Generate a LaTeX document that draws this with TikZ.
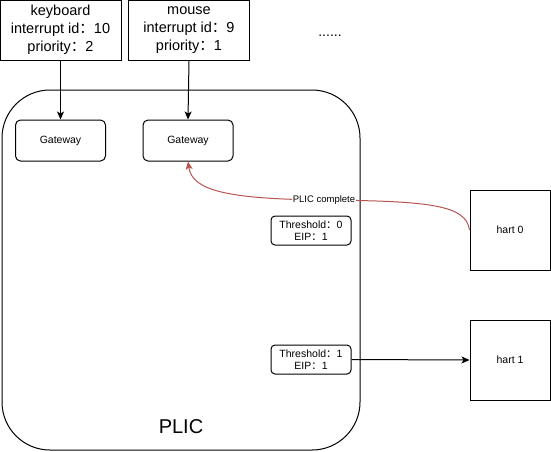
\documentclass[tikz,border=0pt]{standalone}
\usepackage{fontspec}
\setmainfont{Liberation Sans}
\newfontfamily\cjk{Noto Sans CJK SC}
\usetikzlibrary{arrows.meta}
\newcommand{\fc}{{\cjk ：}}
\begin{document}
\begin{tikzpicture}[x=1pt,y=-1pt,line width=1pt,
  dev/.style={draw,minimum width=121pt,minimum height=60pt,inner sep=0pt,align=center,font=\fontsize{14.5}{18}\selectfont},
  gw/.style={draw,rounded corners=5pt,minimum width=90pt,minimum height=41pt,inner sep=0pt,font=\fontsize{10.5}{12}\selectfont},
  th/.style={draw,rounded corners=4pt,minimum width=80pt,minimum height=29pt,inner sep=0pt,align=center,font=\fontsize{10.5}{12.5}\selectfont},
  hart/.style={draw,minimum width=80pt,minimum height=80pt,inner sep=0pt,font=\fontsize{10.5}{12}\selectfont},
  arr/.style={-{Stealth[length=8pt,width=7pt,inset=2pt]}},
  redarr/.style={-{Stealth[length=8pt,width=7pt,inset=2pt]},draw={rgb,255:red,184;green,84;blue,80}},
  lbl/.style={fill=white,inner sep=1pt,font=\fontsize{9.5}{11}\selectfont}]
\useasboundingbox (0,0) rectangle (551,451);
\node[draw,rounded corners=48pt,minimum width=358pt,minimum height=360pt,inner sep=0pt] (plic) at (181,270) {};
\node[font=\fontsize{20}{24}\selectfont] (plictxt) at (181,427) {PLIC};
\node[dev] (kb) at (60.5,30) {keyboard\\interrupt id\fc 10\\priority\fc 2};
\node[dev] (ms) at (189,30) {mouse\\interrupt id\fc 9\\priority\fc 1};
\node[font=\fontsize{14}{16}\selectfont] (dots) at (330,36) {......};
\node[gw] (g1) at (60.5,140.5) {Gateway};
\node[gw] (g2) at (188,140.5) {Gateway};
\node[th] (t0) at (311,230.5) {Threshold\fc 0\\EIP\fc 1};
\node[th] (t1) at (311,359.5) {Threshold\fc 1\\EIP\fc 1};
\node[hart] (h0) at (510,230) {hart 0};
\node[hart] (h1) at (510,360) {hart 1};
\draw[arr] (kb.south) -- (g1.north);
\draw[arr] (ms.south) -- (g2.north);
\draw[arr] (t1.east) -- (h1.west);
\draw[redarr] (h0.west) .. controls (466,205) and (430,201) .. (324,200) node[lbl,text=black] (pc) {PLIC complete} .. controls (225,199) and (192,190) .. (g2.south);
\end{tikzpicture}
\end{document}
